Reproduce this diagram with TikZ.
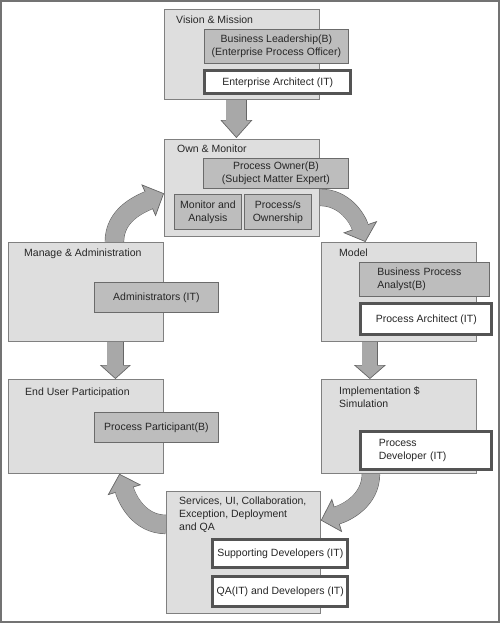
\documentclass[tikz,border=0pt]{standalone}
\usepackage{fontspec}
\setmainfont{Liberation Sans}
\usetikzlibrary{arrows.meta, backgrounds, calc}
\definecolor{phasefill}{gray}{0.87}
\definecolor{phaseline}{gray}{0.5}
\definecolor{rolefill}{gray}{0.74}
\definecolor{roleline}{gray}{0.42}
\definecolor{itline}{gray}{0.33}
\definecolor{arrowfill}{gray}{0.66}
\definecolor{arrowline}{gray}{0.4}
\definecolor{frameline}{gray}{0.45}
\definecolor{textcol}{gray}{0.15}
% fat arrow: [to options]{from}{to}{shaft}{head width}{head length}
\newcommand{\blockarrow}[6][]{
    \draw[arrowline, line width=#4+1.4pt, shorten >=#6] (#2) to[#1] (#3);
    \draw[arrowfill, line width=#4, -{Triangle[width=#5, length=#6, color=arrowline, fill=arrowfill, line width=0.7pt]}] (#2) to[#1] (#3);
    \draw[arrowfill, line width=#4, shorten >=#6-3pt] (#2) to[#1] (#3);
}

\begin{document}
\begin{tikzpicture}[
        x=1pt,
        y=1pt,
        yscale=-1,
        every node/.style={font=\fontsize{10.5}{13}\selectfont, text=textcol, inner sep=0pt},
        phase/.style={draw=phaseline, fill=phasefill, line width=0.8pt, anchor=north west},
        role/.style={draw=roleline, fill=rolefill, line width=0.8pt, anchor=north west, align=center},
        itrole/.style={draw=itline, fill=white, line width=2.8pt, anchor=north west, align=center},
        title/.style={anchor=north west, align=left}
    ]
    \useasboundingbox (0,0) rectangle (500,623);
    \draw[frameline, line width=2pt] (1,1) rectangle (499,622);

    % phases
    \node[phase, minimum width=155pt, minimum height=90pt] (vm) at (164,9) {};
    \node[phase, minimum width=155pt, minimum height=97pt] (om) at (164,139) {};
    \node[phase, minimum width=155pt, minimum height=99pt] (mdl) at (321,242) {};
    \node[phase, minimum width=155pt, minimum height=94pt] (impl) at (321,379) {};
    \node[phase, minimum width=154pt, minimum height=122pt] (svc) at (166,491) {};
    \node[phase, minimum width=155pt, minimum height=99pt] (mng) at (8,242) {};
    \node[phase, minimum width=155pt, minimum height=94pt] (eup) at (8,379) {};

    \node[title] (vmtitle) at (176,16) {Vision \& Mission};
    \node[title] (omtitle) at (177,145) {Own \& Monitor};
    \node[title] (mdltitle) at (339,249) {Model};
    \node[title] (impltitle) at (339,387) {Implementation \$\\Simulation};
    \node[title] (svctitle) at (179,497) {Services, UI, Collaboration,\\Exception, Deployment\\and QA};
    \node[title] (mngtitle) at (24,249) {Manage \& Administration};
    \node[title] (euptitle) at (25,388) {End User Participation};

    % roles
    \node[role, minimum width=144pt, minimum height=34pt] (bl) at (204,29) {Business Leadership(B)\\(Enterprise Process Officer)};
    \node[itrole, minimum width=146pt, minimum height=23pt] (ea) at (203.4,69.4) {Enterprise Architect (IT)};
    \node[role, minimum width=145pt, minimum height=30pt] (po) at (203,158) {Process Owner(B)\\(Subject Matter Expert)};
    \node[role, minimum width=67pt, minimum height=35pt] (mona) at (174,194) {Monitor and\\Analysis};
    \node[role, minimum width=67pt, minimum height=35pt] (pown) at (244,194) {Process/s\\Ownership};
    \node[role, align=left, text width=94pt, inner xsep=18pt, minimum height=34pt] (bpa) at (359,262) {Business Process\\Analyst(B)};
    \node[itrole, minimum width=131pt, minimum height=31pt] (pa) at (359.4,302.4) {Process Architect (IT)};
    \node[itrole, align=left, text width=95pt, inner xsep=18pt, minimum height=38pt] (pd) at (359.4,430.4) {Process\\Developer (IT)};
    \node[itrole, minimum width=135pt, minimum height=28pt] (sd) at (211.4,538.4) {Supporting Developers (IT)};
    \node[itrole, minimum width=135pt, minimum height=30pt] (qa) at (211.4,575.4) {QA(IT) and Developers (IT)};
    \node[role, minimum width=124pt, minimum height=30pt] (adm) at (94,282) {Administrators (IT)};
    \node[role, minimum width=124pt, minimum height=30pt] (pp) at (94,412) {Process Participant(B)};

    % flow
    \begin{scope}[on background layer]
        \blockarrow{$(vm.south)+(-5.5,0)$}{$(om.north)+(-5.5,-1)$}{20pt}{32pt}{18pt}
        \blockarrow[out=0, in=-109]{$(om.east)+(0,9.5)$}{$(mdl.north)+(-33.5,0)$}{16pt}{36pt}{16pt}
        \blockarrow{$(mdl.south)+(-29,0)$}{$(impl.north)+(-29,0)$}{15pt}{32pt}{14pt}
        \blockarrow[out=90, in=-17]{$(impl.south)+(-28,0)$}{$(svc.east)+(0,-32)$}{17pt}{35pt}{17pt}
        \blockarrow[out=180, in=73]{$(svc.west)+(0,-28)$}{$(eup.south)+(33.5,0)$}{18pt}{35pt}{17pt}
        \blockarrow{$(mng.south)+(29.5,0)$}{$(eup.north)+(29.5,0)$}{16pt}{31pt}{14pt}
        \blockarrow[out=-90, in=156]{$(mng.north)+(28.5,0)$}{$(om.west)+(0,5.5)$}{18pt}{35pt}{17pt}
    \end{scope}
\end{tikzpicture}
\end{document}
